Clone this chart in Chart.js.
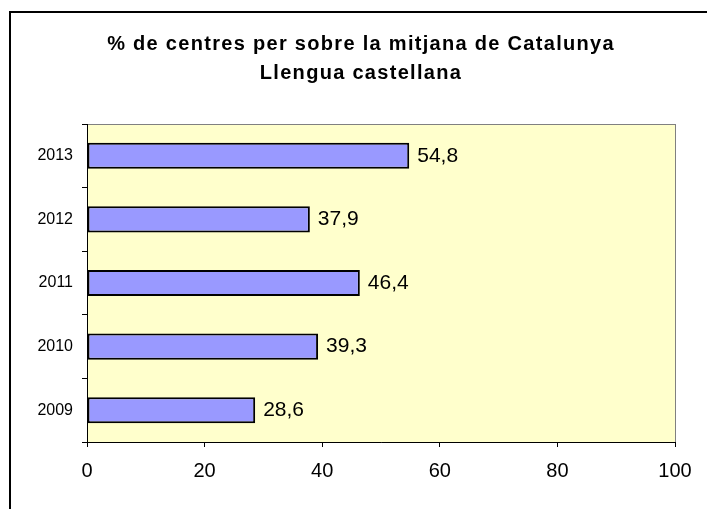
<!DOCTYPE html>
<html>
<head>
<meta charset="utf-8">
<script src="https://cdn.jsdelivr.net/npm/chart.js@4"></script>
<style>
  html, body { margin: 0; padding: 0; background: #fff; }
  #wrap { width: 707px; height: 509px; }
</style>
</head>
<body>
<div id="wrap"><canvas id="centresChart" width="707" height="509"></canvas></div>
<script>
const titleLines = ['% de centres per sobre la mitjana de Catalunya', 'Llengua castellana'];
const years = ['2013', '2012', '2011', '2010', '2009'];
const percentages = [54.8, 37.9, 46.4, 39.3, 28.6];
const xTicks = [0, 20, 40, 60, 80, 100];

const FONT = '"Liberation Sans", Arial, sans-serif';

// cadre, fons de la zona de dibuix i títol
const backgroundPlugin = {
    id: 'background',
    beforeDraw(chart) {
        const ctx = chart.ctx;
        const a = chart.chartArea;
        ctx.save();
        ctx.strokeStyle = '#000';
        ctx.lineWidth = 2;
        ctx.strokeRect(10, 12, 760, 560);
        ctx.fillStyle = '#FFFFCC';
        ctx.fillRect(a.left, a.top, a.right - a.left, a.bottom - a.top);
        ctx.strokeStyle = '#808080';
        ctx.lineWidth = 1;
        ctx.strokeRect(a.left + 0.5, a.top + 0.5, a.right - a.left, a.bottom - a.top);

        ctx.fillStyle = '#000';
        ctx.font = 'bold 20px ' + FONT;
        ctx.textAlign = 'center';
        ctx.textBaseline = 'middle';
        ctx.letterSpacing = '1.3px';
        ctx.fillText(titleLines[0], 361, 44);
        ctx.fillText(titleLines[1], 361, 73);
        ctx.restore();
    }
};

// etiquetes de valor a la dreta de cada barra
const valueLabels = {
    id: 'valueLabels',
    afterDatasetsDraw(chart) {
        const ctx = chart.ctx;
        const meta = chart.getDatasetMeta(0);
        ctx.save();
        ctx.fillStyle = '#000';
        ctx.font = '21px ' + FONT;
        ctx.textAlign = 'left';
        ctx.textBaseline = 'middle';
        meta.data.forEach((bar, i) => {
            const txt = percentages[i].toFixed(1).replace('.', ',');
            ctx.fillText(txt, bar.x + 8, bar.y);
        });
        ctx.restore();
    }
};

new Chart(document.getElementById('centresChart').getContext('2d'), {
    type: 'bar',
    data: {
        labels: years,
        datasets: [{
            data: percentages,
            backgroundColor: '#9999FF',
            borderColor: '#000',
            borderWidth: 2,
            borderSkipped: false,
            barPercentage: 0.41,
            categoryPercentage: 1
        }]
    },
    options: {
        indexAxis: 'y',
        responsive: false,
        animation: false,
        layout: { padding: { top: 124, right: 32, left: 0, bottom: 0 } },
        scales: {
            x: {
                min: 0,
                max: 100,
                afterBuildTicks(scale) {
                    scale.ticks = xTicks.map(v => ({ value: v }));
                },
                afterFit(scale) { scale.height = 67; },
                grid: {
                    drawOnChartArea: false,
                    tickLength: 5,
                    color: '#000'
                },
                border: { color: '#000', width: 1 },
                ticks: {
                    padding: 12,
                    color: '#000',
                    font: { family: FONT, size: 20 }
                }
            },
            y: {
                afterFit(scale) { scale.width = 87; },
                grid: {
                    drawOnChartArea: false,
                    tickLength: 5,
                    color: '#000',
                    offset: true
                },
                border: { color: '#000', width: 1 },
                ticks: {
                    padding: 9,
                    color: '#000',
                    font: { family: FONT, size: 16 }
                }
            }
        },
        plugins: {
            legend: { display: false },
            title: { display: false },
            tooltip: { enabled: false }
        }
    },
    plugins: [backgroundPlugin, valueLabels]
});
</script>
</body>
</html>
